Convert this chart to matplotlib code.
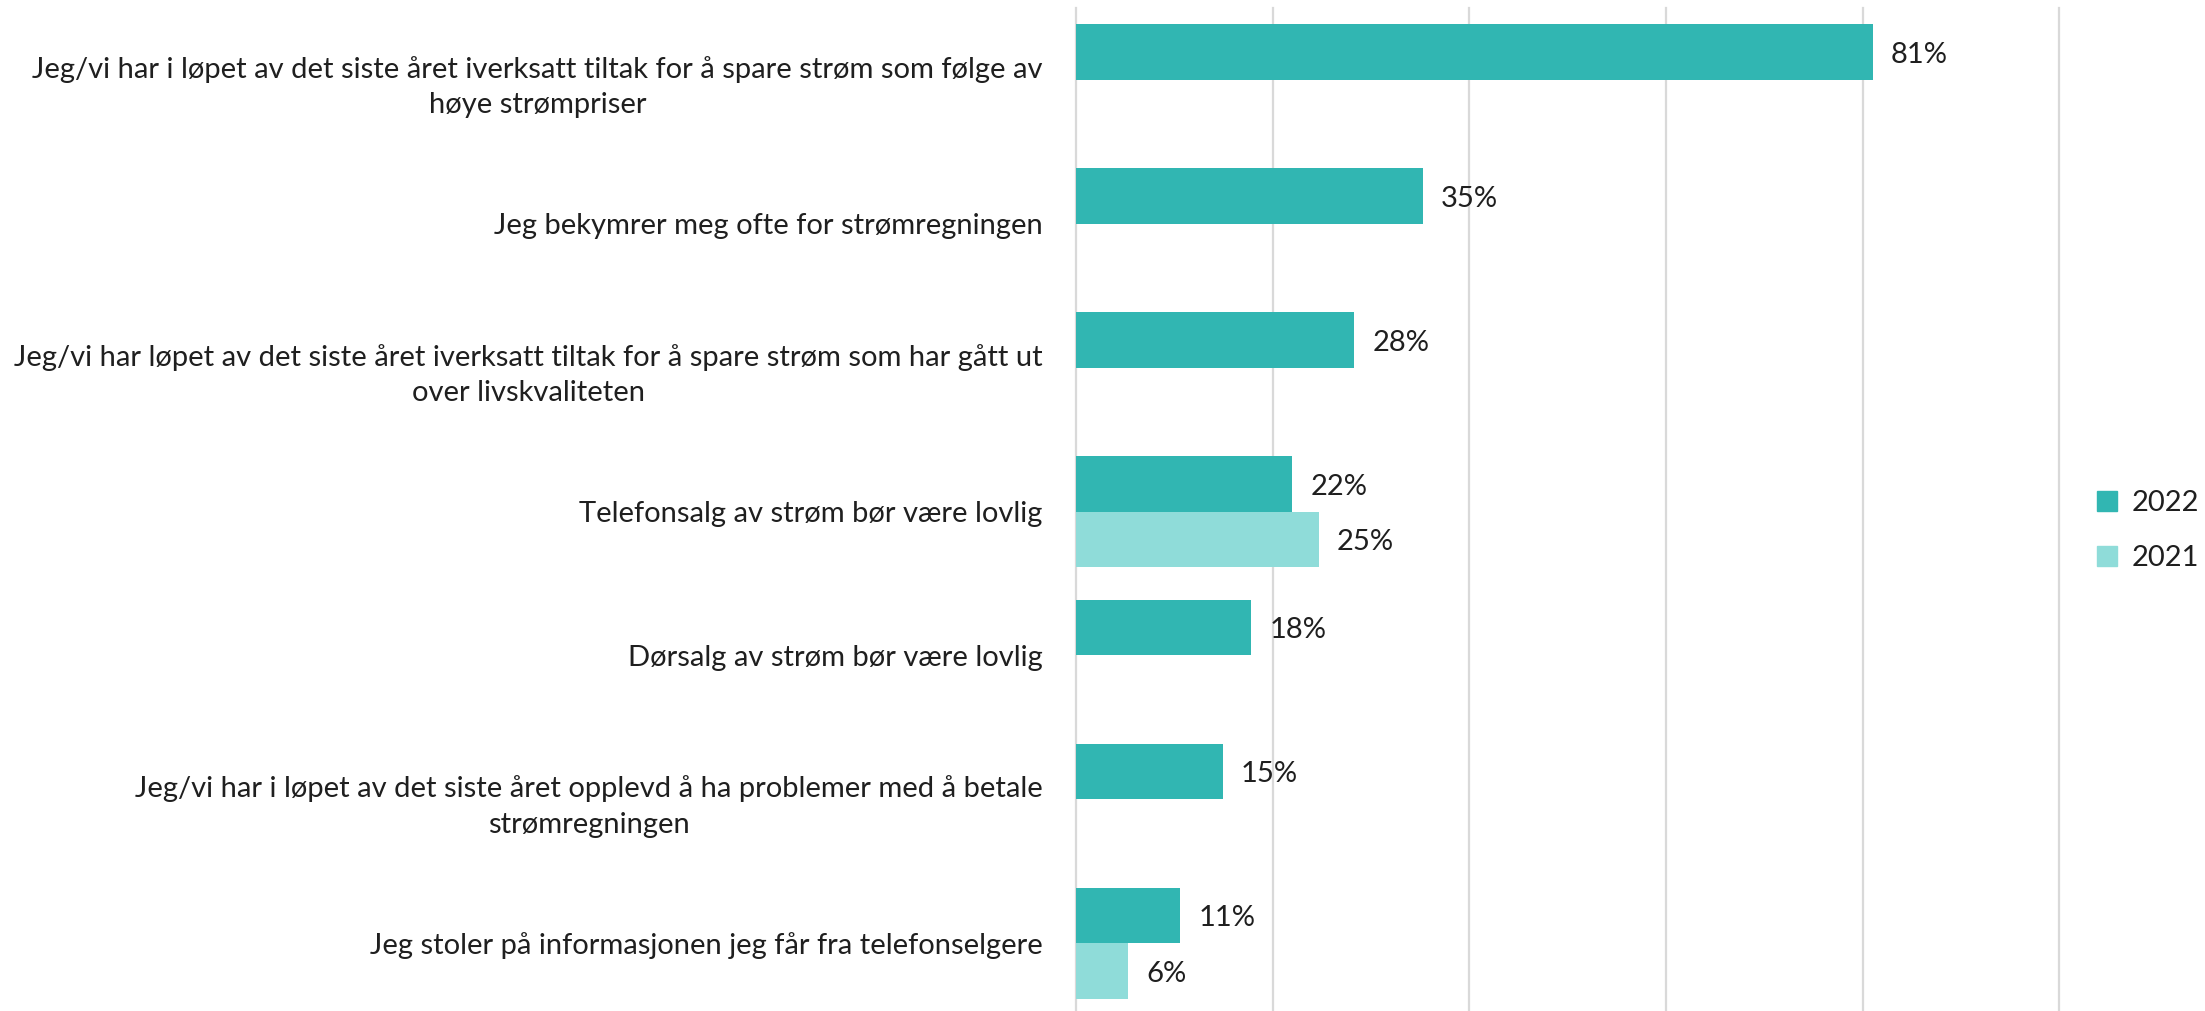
import numpy as np
import matplotlib
matplotlib.use("Agg")
import matplotlib.pyplot as plt
from matplotlib.patches import Patch

plt.rcParams['font.family'] = ['Lato', 'DejaVu Sans']

# data
categories = [
    "Jeg/vi har i løpet av det siste året iverksatt tiltak for å spare strøm som følge av\nhøye strømpriser",
    "Jeg bekymrer meg ofte for strømregningen",
    "Jeg/vi har løpet av det siste året iverksatt tiltak for å spare strøm som har gått ut\nover livskvaliteten",
    "Telefonsalg av strøm bør være lovlig",
    "Dørsalg av strøm bør være lovlig",
    "Jeg/vi har i løpet av det siste året opplevd å ha problemer med å betale\nstrømregningen",
    "Jeg stoler på informasjonen jeg får fra telefonselgere",
]
vals_2022 = [81.0, 35.3, 28.3, 22.0, 17.8, 14.9, 10.6]
labels_2022 = ["81%", "35%", "28%", "22%", "18%", "15%", "11%"]
vals_2021 = [None, None, None, 24.7, None, None, 5.3]
labels_2021 = [None, None, None, "25%", None, None, "6%"]

c2022 = '#31B6B2'
c2021 = '#8FDCD9'
txt = '#1f1f1f'
fs = 21

fig = plt.figure(figsize=(22.05, 10.11), dpi=100)
ax = fig.add_axes([0.488, -0.004, 0.446, 0.996])

y = np.arange(len(categories))
h = 0.386

for i, v in enumerate(vals_2022):
    ax.barh(y[i] - h / 2, v, height=h, color=c2022, zorder=2)
    ax.annotate(labels_2022[i], (v, y[i] - h / 2), xytext=(13, -2), textcoords='offset points',
                va='center', ha='left', fontsize=fs, color=txt)
for i, v in enumerate(vals_2021):
    if v is None:
        continue
    ax.barh(y[i] + h / 2, v, height=h, color=c2021, zorder=2)
    ax.annotate(labels_2021[i], (v, y[i] + h / 2), xytext=(13, -2), textcoords='offset points',
                va='center', ha='left', fontsize=fs, color=txt)

ax.set_xlim(0, 100)
ax.set_ylim(len(categories) - 0.5, -0.5)
ax.set_xticks([0, 20, 40, 60, 80, 100])
ax.xaxis.grid(True, color='#D9D9D9', linewidth=1.6, zorder=0)
ax.tick_params(axis='x', length=0, labelbottom=False)
ax.tick_params(axis='y', length=0, pad=24)
ax.set_yticks(y)
ax.set_yticklabels(categories, fontsize=fs, color=txt, multialignment='center',
                   linespacing=1.45)
for s in ax.spines.values():
    s.set_visible(False)
for gl in ax.get_xgridlines():
    gl.set_clip_on(False)

handles = [Patch(color=c2022, label='2022'), Patch(color=c2021, label='2021')]
fig.legend(handles=handles, loc='center left', bbox_to_anchor=(0.951, 0.475),
           frameon=False, fontsize=fs, handlelength=0.7, handleheight=0.7,
           handletextpad=0.5, labelspacing=1.0, labelcolor=txt,
           borderpad=0, borderaxespad=0)

fig.savefig('out.png', dpi=100)
